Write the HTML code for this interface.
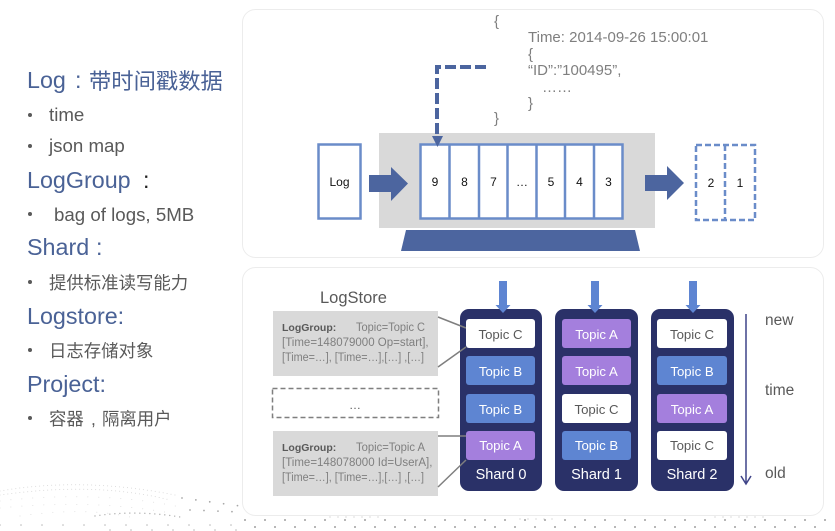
<!DOCTYPE html>
<html>
<head>
<meta charset="utf-8">
<style>
html,body{margin:0;padding:0;background:#fff}
#s{display:block;width:835px;height:531px;position:absolute;left:0;top:0;font-family:"Liberation Sans","Noto Sans CJK SC",sans-serif;filter:blur(.3px)}
.h{font-size:23.3px;fill:#4a6296}
.b{font-size:18.7px;fill:#595959}
.c{font-size:17.4px;fill:#595959}
.j{font-size:15px;fill:#7f7f7f}
.n{font-size:12px;fill:#111;text-anchor:middle}
.t{font-size:13.2px;text-anchor:middle;fill:#fff}
.k{font-size:13.2px;text-anchor:middle;fill:#595959}
.s{font-size:14.5px;text-anchor:middle;fill:#fff}
.g{font-size:11.5px;fill:#7f7f7f}
.gb{font-size:10.5px;font-weight:bold;fill:#595959}
.l{stroke:#7f7f7f;stroke-width:1.5}
.dot{fill:none;stroke-linecap:round}
</style>
</head>
<body>
<svg id="s" viewBox="0 0 835 531" xmlns="http://www.w3.org/2000/svg">
<rect width="835" height="531" fill="#fff"/>

<!-- dotted wave background -->
<g class="dot">
<g stroke="#d4d4d4" stroke-width="1" stroke-dasharray="0 4">
<path d="M0 491C40 484 100 480 175 495"/>
<path d="M0 495C50 488 110 485 170 500"/>
</g>
<g stroke="#dcdcdc" stroke-width="1" stroke-dasharray="0 11">
<path d="M0 501C50 495 120 494 180 507"/>
<path d="M0 508C50 503 110 502 170 513"/>
<path d="M20 516C60 510 100 510 130 517"/>
</g>
<g stroke="#b0b0b0" stroke-width="1.400" stroke-dasharray="0 5">
<path d="M95 516C120 512 150 512 180 517"/>
</g>
<g stroke="#a8a8a8" stroke-width="1.800" stroke-dasharray="0 14">
<path d="M182 498L240 506"/>
<path d="M190 510L240 512"/>
</g>
<g stroke="#b4b4b4" stroke-width="1.500" stroke-dasharray="0 21">
<path d="M0 525H240"/>
<path d="M110 530H240"/>
</g>
<g stroke="#a0a0a0" stroke-width="2" stroke-dasharray="0 20">
<path d="M245 520H835"/>
<path d="M255 527H835"/>
</g>
<g stroke="#c4c4c4" stroke-width="1.200" stroke-dasharray="0 8">
<path d="M330 517H380"/>
<path d="M520 519H560"/>
<path d="M715 517H765"/>
</g>
</g>

<rect x="242.500" y="9.500" width="581" height="248" rx="13" fill="#fff" stroke="#ececec"/>
<rect x="242.500" y="267.500" width="581" height="248" rx="13" fill="#fff" stroke="#ececec"/>

<!-- left text -->
<g fill="#595959">
<circle cx="30" cy="115" r="2"/>
<circle cx="30" cy="146" r="2"/>
<circle cx="30" cy="214" r="2"/>
<circle cx="30" cy="282" r="2"/>
<circle cx="30" cy="350" r="2"/>
<circle cx="30" cy="418" r="2"/>
</g>
<text x="27" y="88" class="h">Log</text><text x="75" y="88" class="h">:</text><text x="89" y="89" style="font-size:22.300px;fill:#4a6296">带时间戳数据</text>
<text x="49" y="121" class="b">time</text>
<text x="49" y="152" class="b">json map</text>
<text x="27" y="188" class="h">LogGroup</text><text x="143" y="188" class="h" style="fill:#222">:</text>
<text x="54" y="221" class="b">bag of logs, 5MB</text>
<text x="27" y="255" class="h">Shard</text><text x="96" y="255" class="h">:</text>
<text x="49" y="289" class="c">提供标准读写能力</text>
<text x="27" y="324" class="h">Logstore:</text>
<text x="49" y="357" class="c">日志存储对象</text>
<text x="27" y="392" class="h">Project:</text>
<text x="49" y="425" class="c">容器</text><text x="91" y="425" class="c">,</text><text x="102" y="425" class="c">隔离用户</text>

<!-- top diagram -->
<rect x="379" y="133" width="276" height="95" fill="#d9d9d9"/>
<path d="M406 230H635L640 251H401Z" fill="#4c659f"/>
<rect x="318.500" y="144.500" width="42" height="74" fill="#fff" stroke="#6a8cc9" stroke-width="2.500"/>
<text x="339.500" y="186" class="n">Log</text>
<path d="M369 175H391V167L408 183.500L391 201V192H369Z" fill="#4c659f"/>
<path d="M645 175H667V166L684 183L667 200V191H645Z" fill="#4c659f"/>
<rect x="420.500" y="144.500" width="202" height="74" fill="#fff" stroke="#6a8cc9" stroke-width="2.500"/>
<path stroke="#6a8cc9" stroke-width="2.500" d="M449.500 144V219M479 144V219M507.500 144V219M536.500 144V219M565 144V219M594 144V219"/>
<text x="435" y="186" class="n">9</text>
<text x="464.500" y="186" class="n">8</text>
<text x="493.500" y="186" class="n">7</text>
<text x="522" y="186" class="n">…</text>
<text x="551" y="186" class="n">5</text>
<text x="579.500" y="186" class="n">4</text>
<text x="608.500" y="186" class="n">3</text>
<text x="711" y="187" class="n">2</text>
<text x="740" y="187" class="n">1</text>
<g fill="none" stroke="#6a8cc9" stroke-width="2.500" stroke-dasharray="6 3">
<rect x="696" y="145" width="59" height="75"/>
<path d="M725 145V220"/>
</g>
<path d="M486 67H437V137" fill="none" stroke="#4c659f" stroke-width="4" stroke-dasharray="11 4"/>
<path d="M432 136H443L437.500 147Z" fill="#4c659f"/>
<text x="494" y="26" class="j">{</text>
<text x="528" y="42" class="j">Time: 2014-09-26 15:00:01</text>
<text x="528" y="59" class="j">{</text>
<text x="528" y="75" class="j">“ID”:”100495”,</text>
<text x="542" y="92" class="j">……</text>
<text x="528" y="108" class="j">}</text>
<text x="494" y="123" class="j">}</text>

<!-- bottom -->
<text x="320" y="303" font-size="16.500" fill="#595959">LogStore</text>
<rect x="273" y="311" width="165" height="65" fill="#d9d9d9"/>
<rect x="273" y="431" width="165" height="65" fill="#d9d9d9"/>
<rect x="272.500" y="388.500" width="166" height="29" fill="#fff" stroke="#7f7f7f" stroke-width="1.500" stroke-dasharray="5 3"/>
<text x="355" y="409" font-size="12" fill="#595959" text-anchor="middle">…</text>
<text x="282" y="331" class="gb">LogGroup:</text>
<text x="356" y="331" class="g" textLength="69" lengthAdjust="spacingAndGlyphs">Topic=Topic C</text>
<text x="282" y="346" class="g">[Time=148079000 Op=start],</text>
<text x="282" y="361" class="g" textLength="142" lengthAdjust="spacingAndGlyphs">[Time=…], [Time=…],[…] ,[…]</text>
<text x="282" y="451" class="gb">LogGroup:</text>
<text x="356" y="451" class="g" textLength="69" lengthAdjust="spacingAndGlyphs">Topic=Topic A</text>
<text x="282" y="466" class="g">[Time=148078000 Id=UserA],</text>
<text x="282" y="481" class="g" textLength="142" lengthAdjust="spacingAndGlyphs">[Time=…], [Time=…],[…] ,[…]</text>

<rect x="460" y="309" width="82" height="182" rx="9" fill="#2a3168"/>
<rect x="555" y="309" width="83" height="182" rx="9" fill="#2a3168"/>
<rect x="651" y="309" width="83" height="182" rx="9" fill="#2a3168"/>

<path class="l" d="M438 317L466 328M438 367L466 347M438 436H466M438 487L466 460" fill="none"/>

<rect x="466" y="319" width="69" height="29" rx="3" fill="#fff"/>
<rect x="466" y="356" width="69" height="29" rx="3" fill="#5e85d2"/>
<rect x="466" y="394" width="69" height="29" rx="3" fill="#5e85d2"/>
<rect x="466" y="431" width="69" height="29" rx="3" fill="#a47fdd"/>
<rect x="562" y="319" width="69" height="29" rx="3" fill="#a47fdd"/>
<rect x="562" y="356" width="69" height="29" rx="3" fill="#a47fdd"/>
<rect x="562" y="394" width="69" height="29" rx="3" fill="#fff"/>
<rect x="562" y="431" width="69" height="29" rx="3" fill="#5e85d2"/>
<rect x="657" y="319" width="70" height="29" rx="3" fill="#fff"/>
<rect x="657" y="356" width="70" height="29" rx="3" fill="#5e85d2"/>
<rect x="657" y="394" width="70" height="29" rx="3" fill="#a47fdd"/>
<rect x="657" y="431" width="70" height="29" rx="3" fill="#fff"/>

<text x="500.500" y="339" class="k">Topic C</text>
<text x="500.500" y="376" class="t">Topic B</text>
<text x="500.500" y="414" class="t">Topic B</text>
<text x="500.500" y="450" class="t">Topic A</text>
<text x="596.500" y="339" class="t">Topic A</text>
<text x="596.500" y="376" class="t">Topic A</text>
<text x="596.500" y="414" class="k">Topic C</text>
<text x="596.500" y="450" class="t">Topic B</text>
<text x="692" y="339" class="k">Topic C</text>
<text x="692" y="376" class="t">Topic B</text>
<text x="692" y="414" class="t">Topic A</text>
<text x="692" y="450" class="k">Topic C</text>
<text x="501" y="479" class="s">Shard 0</text>
<text x="596.500" y="479" class="s">Shard 1</text>
<text x="692" y="479" class="s">Shard 2</text>

<g fill="#5e85d2">
<path d="M499 281H507V305H510.500L503 313L495.500 305H499Z"/>
<path d="M591 281H599V305H602.500L595 313L587.500 305H591Z"/>
<path d="M689 281H697V305H700.500L693 313L685.500 305H689Z"/>
</g>
<path d="M746 314V484M741 476L746 484L751 476" fill="none" stroke="#3f4488" stroke-width="1.500"/>
<g font-size="15.500" fill="#595959">
<text x="765" y="325">new</text>
<text x="765" y="395">time</text>
<text x="765" y="478">old</text>
</g>
</svg>
</body>
</html>
